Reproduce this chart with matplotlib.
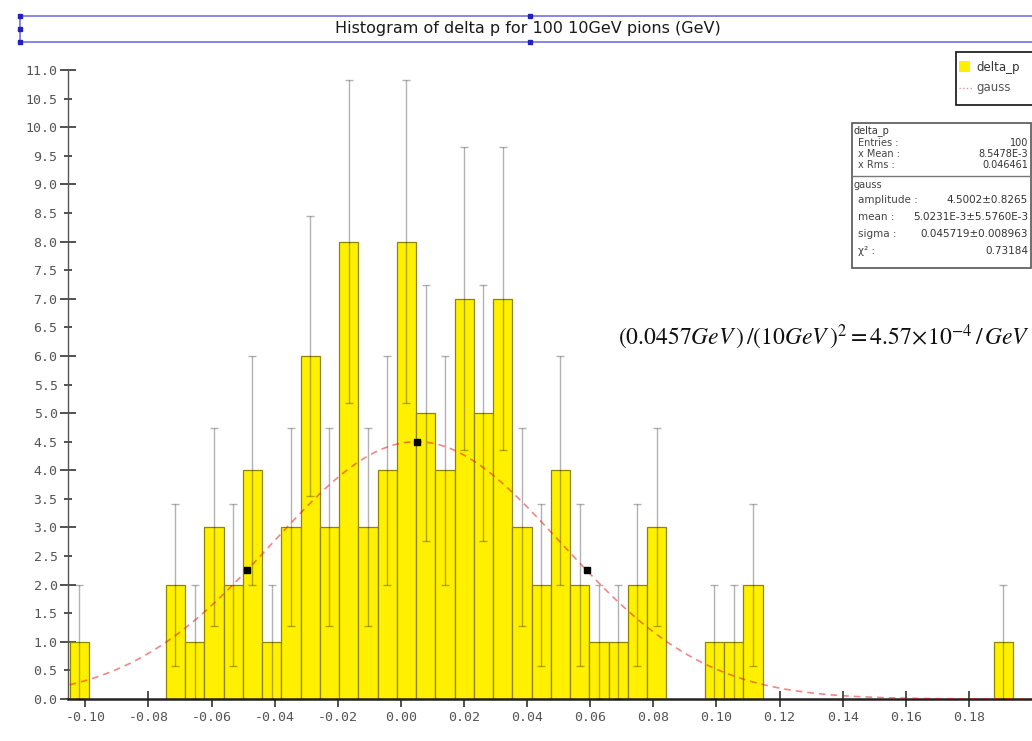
import numpy as np
import matplotlib
matplotlib.use("Agg")
import matplotlib.pyplot as plt
from matplotlib.patches import Rectangle
from matplotlib.lines import Line2D

# ---------------- data ----------------
hist_range = (-0.105, 0.2)
n_bins = 50
counts = [1, 0, 0, 0, 0, 2, 1, 3, 2, 4,
          1, 3, 6, 3, 8, 3, 4, 8, 5, 4,
          7, 5, 7, 3, 2, 4, 2, 1, 1, 2,
          3, 0, 0, 1, 1, 2, 0, 0, 0, 0,
          0, 0, 0, 0, 0, 0, 0, 0, 1, 0]
fit_amplitude = 4.5002
fit_mean = 5.0231e-3
fit_sigma = 0.045719
x_ticks = [-0.10, -0.08, -0.06, -0.04, -0.02, 0.00, 0.02, 0.04, 0.06, 0.08,
           0.10, 0.12, 0.14, 0.16, 0.18]
y_ticks = [0.0, 0.5, 1.0, 1.5, 2.0, 2.5, 3.0, 3.5, 4.0, 4.5, 5.0, 5.5, 6.0,
           6.5, 7.0, 7.5, 8.0, 8.5, 9.0, 9.5, 10.0, 10.5, 11.0]
title = "Histogram of delta p for 100 10GeV pions (GeV)"
stats_top = [("Entries :", "100"), ("x Mean :", "8.5478E-3"), ("x Rms :", "0.046461")]
stats_fit = [("amplitude :", "4.5002±0.8265"), ("mean :", "5.0231E-3±5.5760E-3"),
             ("sigma :", "0.045719±0.008963"), ("χ² :", "0.73184")]

# ---------------- figure ----------------
W, H = 1032, 741
plt.rcParams['axes.unicode_minus'] = False
plt.rcParams['mathtext.fontset'] = 'stix'
fig = plt.figure(figsize=(W / 100, H / 100), dpi=100)
fig.patch.set_facecolor('white')

def fx(px):
    return px / W

def fy(py):
    return 1 - py / H

ax = fig.add_axes([fx(68), fy(699), 1 - fx(68), (699 - 70) / H])

counts_arr = np.array(counts, dtype=float)
edges = np.linspace(hist_range[0], hist_range[1], n_bins + 1)
centers = 0.5 * (edges[:-1] + edges[1:])
width = edges[1] - edges[0]
nz = counts_arr > 0

ax.bar(centers[nz], counts_arr[nz], width=width, color='#FFF000',
       edgecolor='#8f8600', linewidth=0.9, zorder=2)

err = np.sqrt(counts_arr[nz])
ax.errorbar(centers[nz], counts_arr[nz], yerr=err, fmt='none',
            ecolor=(0, 0, 0, 0.3), elinewidth=1.0, capsize=3, capthick=1.0,
            zorder=3)

xf = np.linspace(hist_range[0], hist_range[1], 600)
yf = fit_amplitude * np.exp(-0.5 * ((xf - fit_mean) / fit_sigma) ** 2)
ax.plot(xf, yf, color='#e01010', alpha=0.5, lw=1.2, ls=(0, (4, 3)), zorder=4)

half = fit_sigma * np.sqrt(2 * np.log(2))
mx = [fit_mean - half, fit_mean, fit_mean + half]
my = [fit_amplitude / 2, fit_amplitude, fit_amplitude / 2]
ax.plot(mx, my, ls='none', marker='s', ms=4, color='black', zorder=5)

ax.set_xlim(-0.1055, 0.2)
ax.set_ylim(0, 11)
for s in ['top', 'right']:
    ax.spines[s].set_visible(False)
ax.spines['bottom'].set_color('#222222')
ax.spines['bottom'].set_linewidth(1.8)
ax.spines['left'].set_color('#555555')
ax.spines['left'].set_linewidth(1.0)
ax.set_xticks(x_ticks)
ax.set_xticklabels(['%.2f' % v for v in x_ticks])
ax.set_yticks(y_ticks)
ax.set_yticklabels(['%.1f' % v for v in y_ticks])
ax.tick_params(axis='both', direction='inout', length=11, width=1.2,
               color='#333333', labelsize=9.5, labelcolor='#555555')
ax.tick_params(axis='y', pad=2)
ax.tick_params(axis='x', pad=3)
for lab in ax.get_xticklabels() + ax.get_yticklabels():
    lab.set_family('DejaVu Sans Mono')
for t, v in zip(ax.yaxis.get_major_ticks(), y_ticks):
    if abs(v - round(v)) > 1e-9:
        t.tick1line.set_markersize(6)
        t.tick1line.set_color('#999999')
ax.set_facecolor('none')

# ---------------- title box ----------------
fig.add_artist(Line2D([fx(20), 1.0], [fy(16), fy(16)], transform=fig.transFigure,
                      color='#7272dd', lw=1.2))
fig.add_artist(Line2D([fx(20), 1.0], [fy(42), fy(42)], transform=fig.transFigure,
                      color='#7272dd', lw=1.2))
fig.add_artist(Line2D([fx(20), fx(20)], [fy(16), fy(42)], transform=fig.transFigure,
                      color='#7272dd', lw=1.2))
for (hx, hy) in [(20, 16), (20, 29), (20, 42), (530, 16), (530, 42)]:
    fig.add_artist(Line2D([fx(hx)], [fy(hy)], transform=fig.transFigure, marker='s',
                          ms=3, color='#2222bb', ls='none'))
fig.text(fx(528), fy(29), title, ha='center', va='center', fontsize=11.5,
         color='#1a1a1a', family='DejaVu Sans')

# ---------------- legend box ----------------
fig.add_artist(Rectangle((fx(956), fy(105)), (1060 - 956) / W, (105 - 52) / H,
                         transform=fig.transFigure, facecolor='white',
                         edgecolor='#111111', lw=1.2, zorder=5))
fig.add_artist(Rectangle((fx(959), fy(72)), 11 / W, 11 / H, transform=fig.transFigure,
                         facecolor='#FFF000', edgecolor='none', zorder=6))
fig.text(fx(976), fy(67), 'delta_p', ha='left', va='center', fontsize=8.5,
         color='#333333', zorder=6)
fig.add_artist(Line2D([fx(959), fx(972)], [fy(88), fy(88)], transform=fig.transFigure,
                      color='#e02020', alpha=0.5, lw=1, ls=':', zorder=6))
fig.text(fx(976), fy(88), 'gauss', ha='left', va='center', fontsize=8.5,
         color='#555555', zorder=6)

# ---------------- stats box ----------------
top, bot, left, right = 123, 268, 852, 1031
fig.add_artist(Rectangle((fx(left), fy(bot)), (right - left) / W, (bot - top) / H,
                         transform=fig.transFigure, facecolor='white',
                         edgecolor='#555555', lw=1.2, zorder=5))
fig.add_artist(Line2D([fx(left), fx(right)], [fy(176), fy(176)],
                      transform=fig.transFigure, color='#777777', lw=1, zorder=6))
fig.text(fx(854), fy(131), 'delta_p', ha='left', va='center', fontsize=7,
         color='#333333', zorder=6)
for i, (lab, val) in enumerate(stats_top):
    yy = 143 + i * 11
    fig.text(fx(858), fy(yy), lab, ha='left', va='center', fontsize=7,
             color='#444444', zorder=6)
    fig.text(fx(1028), fy(yy), val, ha='right', va='center', fontsize=7,
             color='#333333', zorder=6)
fig.text(fx(854), fy(185), 'gauss', ha='left', va='center', fontsize=7,
         color='#444444', zorder=6)
for i, (lab, val) in enumerate(stats_fit):
    yy = 200 + i * 17
    fig.text(fx(858), fy(yy), lab, ha='left', va='center', fontsize=7.5,
             color='#444444', zorder=6)
    fig.text(fx(1028), fy(yy), val, ha='right', va='center', fontsize=7.5,
             color='#333333', zorder=6)

# ---------------- formula ----------------
fig.text(fx(618), fy(337),
         r'$(0.0457GeV\,)\,/(10GeV\,)^2 = 4.57\!\times\!10^{-4}\,/\,GeV$',
         ha='left', va='center', fontsize=17, color='#111111')

fig.savefig('out.png', dpi=100, facecolor='white')
